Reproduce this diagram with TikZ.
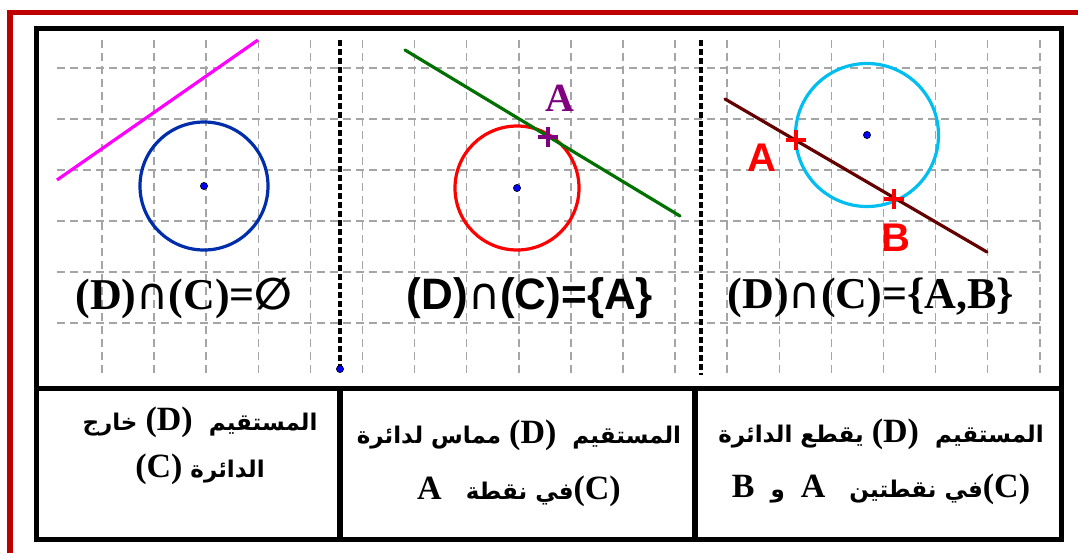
\documentclass[tikz,border=0pt]{standalone}
\usepackage{fontspec}
\usepackage{xcolor}
\usepackage{tikz}
\usetikzlibrary{shapes.misc, positioning}

\setmainfont{Liberation Serif}
\newfontfamily\sansfont{Liberation Sans}
\newfontfamily\symbfont{DejaVu Sans}
\newfontfamily\arabicfont[Script=Arabic]{DejaVu Sans}
\TeXXeTstate=1

\definecolor{frameRed}{RGB}{192,0,0}
\definecolor{gridGray}{RGB}{165,165,165}
\definecolor{geoBlue}{RGB}{0,45,170}
\definecolor{geoGreen}{RGB}{0,112,0}
\definecolor{geoCyan}{RGB}{0,190,240}
\definecolor{geoMaroon}{RGB}{100,0,0}
\definecolor{geoPurple}{RGB}{128,0,128}
\definecolor{geoMagenta}{RGB}{255,0,255}

\newcommand{\lat}[1]{\beginL{\rmfamily\bfseries\fontsize{17}{20}\selectfont #1}\endL}
\newcommand{\capsym}{{\symbfont\mdseries ∩}}

\begin{document}
\begin{tikzpicture}[
    x=0.5pt, y=-0.5pt,
    gridline/.style={draw=gridGray, line width=0.75pt, dash pattern=on 4pt off 2.5pt},
    sepline/.style={draw=black, line width=2pt, dash pattern=on 3pt off 1.5pt},
    circ/.style={circle, draw, line width=1.6pt, inner sep=0pt},
    centre/.style={circle, fill=blue, draw=black, line width=0.3pt, inner sep=0pt, minimum size=3.6pt},
    dline/.style={line width=1.6pt, line cap=round},
    ptcross/.style={cross out, draw, rotate=45, line width=1.8pt, inner sep=0pt, minimum size=5.6pt},
    formula/.style={font=\fontsize{22}{24}\selectfont\bfseries, inner sep=0pt},
    cell/.style={align=center, inner sep=0pt, font=\arabicfont\bfseries\fontsize{11.5}{23.5}\selectfont}
]
    \useasboundingbox (0,0) rectangle (1078,553);

    % Grid
    \foreach \i in {0,...,18}
        \draw[gridline] ({102+52.1*\i},40) -- ({102+52.1*\i},376);
    \foreach \j in {0,...,5}
        \draw[gridline] (57,{68+51*\j}) -- (1045,{68+51*\j});

    % Frames
    \draw[frameRed, line width=2.7pt] (10,553) -- (10,12.5) -- (1078,12.5);
    \draw[line width=2.5pt] (36.5,28) rectangle (1061.5,539.5);
    \draw[line width=2.5pt] (36.5,388) -- (1061.5,388);
    \draw[line width=3pt] (340,388) -- (340,539.5);
    \draw[line width=3pt] (695,388) -- (695,539.5);

    % Separators
    \coordinate (s1t) at (340,40);
    \coordinate (s1b) at (340,369);
    \coordinate (s2t) at (701,40);
    \coordinate (s2b) at (701,375);
    \draw[sepline] (s1t) -- (s1b);
    \draw[sepline] (s2t) -- (s2b);
    \node[centre] (s1dot) at (s1b) {};

    % Panel 1: no intersection
    \node[circ, draw=geoBlue, minimum size=64pt] (c1) at (204,186) {};
    \node[centre] (o1) at (c1.center) {};
    \coordinate (d1a) at (57,180);
    \coordinate (d1b) at (258,40);
    \draw[dline, geoMagenta, line cap=butt] (d1a) -- (d1b);
    \node[formula] (f1) at (184,298) {(D)\capsym(C)={\symbfont\bfseries ∅}};

    % Panel 2: tangent
    \node[circ, draw=red, minimum size=62pt] (c2) at (517,188) {};
    \node[centre] (o2) at (c2.center) {};
    \coordinate (d2a) at (405,50);
    \coordinate (d2b) at (680,216);
    \draw[dline, geoGreen] (d2a) -- (d2b);
    \node[ptcross, draw=geoPurple] (pA2) at (548,137) {};
    \node[formula, text=geoPurple, font=\fontsize{20}{22}\selectfont\bfseries] (lA2) at (560,98) {A};
    \node[formula, font=\sansfont\bfseries\fontsize{22}{24}\selectfont] (f2) at (530,298) {(D)\capsym(C)=\{A\}};

    % Panel 3: secant
    \node[circ, draw=geoCyan, minimum size=71.5pt] (c3) at (867,135) {};
    \node[centre] (o3) at (c3.center) {};
    \coordinate (d3a) at (725,99);
    \coordinate (d3b) at (987,252);
    \draw[dline, geoMaroon] (d3a) -- (d3b);
    \node[ptcross, draw=red] (pA3) at (796,140) {};
    \node[ptcross, draw=red] (pB3) at (894,199) {};
    \node[formula, text=red, font=\sansfont\bfseries\fontsize{20}{22}\selectfont] (lA3) at (762,158) {A};
    \node[formula, text=red, font=\sansfont\bfseries\fontsize{20}{22}\selectfont] (lB3) at (896,238) {B};
    \node[formula] (f3) at (871,298) {(D)\capsym(C)=\{A,B\}};

    % Cells
    \node[cell] (t1) at (200,446) {\beginR المستقيم \ \lat{(D)} خارج\endR\\ \beginR الدائرة \lat{(C)}\endR};
    \node[cell] (t2) at (519,463) {\beginR المستقيم \ \lat{(D)} مماس لدائرة\endR\\[4.5pt] \beginR\lat{(C)}في نقطة \ \ \lat{A}\endR};
    \node[cell] (t3) at (881,462) {\beginR المستقيم \ \lat{(D)} يقطع الدائرة\endR\\[4pt] \beginR\lat{(C)}في نقطتين \ \ \lat{A} \ و \ \lat{B}\endR};
\end{tikzpicture}
\end{document}
